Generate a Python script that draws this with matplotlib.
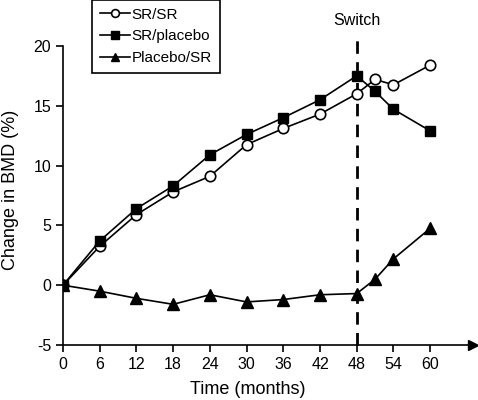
import numpy as np
import matplotlib
matplotlib.use("Agg")
import matplotlib.pyplot as plt

plt.rcParams['font.family'] = ['Liberation Sans', 'DejaVu Sans']
plt.rcParams['axes.unicode_minus'] = False

# data
months = [0, 6, 12, 18, 24, 30, 36, 42, 48, 51, 54, 60]
sr_sr = [0, 3.25, 5.9, 7.8, 9.1, 11.75, 13.1, 14.3, 16.0, 17.2, 16.75, 18.4]
sr_placebo = [0, 3.7, 6.4, 8.3, 10.9, 12.6, 14.0, 15.5, 17.5, 16.2, 14.7, 12.9]
placebo_sr = [0, -0.5, -1.1, -1.6, -0.8, -1.4, -1.2, -0.8, -0.7, 0.5, 2.2, 4.75]
xticks = [0, 6, 12, 18, 24, 30, 36, 42, 48, 54, 60]
yticks = [-5, 0, 5, 10, 15, 20]
switch_month = 48

fig = plt.figure(figsize=(4.78, 4.0), dpi=100)
ax = fig.add_axes([63/478, 55/400, 410/478, 323/400])

ax.plot(months, sr_sr, '-o', color='k', mfc='white', mec='k', ms=7.5, lw=1.2, mew=1.2, label='SR/SR', zorder=3)
ax.plot(months, sr_placebo, '-s', color='k', ms=7, lw=1.2, label='SR/placebo', zorder=3)
ax.plot(months, placebo_sr, '-^', color='k', ms=8, lw=1.2, label='Placebo/SR', zorder=3)

# switch line
ax.plot([switch_month, switch_month], [-5, 21.1], color='k', lw=2, dashes=(4.5, 3), zorder=2,
        clip_on=False)
ax.text(switch_month, 22.15, 'Switch', ha='center', va='center', fontsize=11.5, clip_on=False)

ax.set_xlim(0, 67)
ax.set_ylim(-5, 22)
ax.spines['top'].set_visible(False)
ax.spines['right'].set_visible(False)
ax.spines['left'].set_bounds(-5, 20)
ax.spines['left'].set_linewidth(1.2)
ax.spines['bottom'].set_linewidth(1.2)
ax.plot([67], [-5], marker='>', color='k', ms=7, clip_on=False)

ax.set_xticks(xticks)
ax.set_yticks(yticks)
ax.tick_params(direction='out', length=5, width=1.2, labelsize=11.5)

fig.text(248/478, 1 - 389/400, 'Time (months)', ha='center', va='center', fontsize=13)
fig.text(11/478, 1 - 190/400, 'Change in BMD (%)', ha='center', va='center', fontsize=13,
         rotation=90)

leg = ax.legend(loc='upper left', bbox_to_anchor=(92/478, 1.0), bbox_transform=fig.transFigure,
                borderaxespad=0, fancybox=False, edgecolor='k', fontsize=11,
                handlelength=2.0, handletextpad=0.1, labelspacing=0.5, borderpad=0.5,
                markerscale=0.75)
leg.get_frame().set_linewidth(1.2)
leg.get_frame().set_alpha(1)

fig.savefig('out.png', dpi=100)
